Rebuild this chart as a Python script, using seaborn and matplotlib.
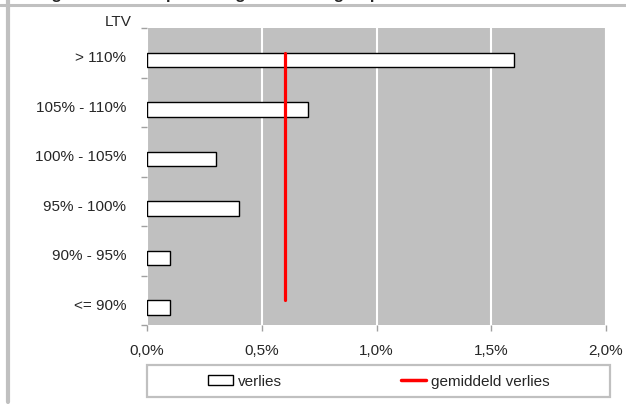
import numpy as np
import pandas as pd
import matplotlib
matplotlib.use("Agg")
import matplotlib.pyplot as plt
from matplotlib.patches import Patch, Rectangle
from matplotlib.lines import Line2D
from matplotlib.ticker import FixedLocator, FuncFormatter
from matplotlib.transforms import ScaledTranslation
import seaborn as sns

# LTV groups and loss percentages (%)
ltv_groups = ["> 110%", "105% - 110%", "100% - 105%", "95% - 100%", "90% - 95%", "<= 90%"]
verlies = [1.6, 0.7, 0.3, 0.4, 0.1, 0.1]
gemiddeld_verlies = [0.6, 0.6, 0.6, 0.6, 0.6, 0.6]
x_ticks = [0.0, 0.5, 1.0, 1.5, 2.0]

sns.set_style("white")
plt.rcParams["font.family"] = ["Liberation Sans", "DejaVu Sans"]
plt.rcParams["font.size"] = 11

W, H = 626, 406
fig = plt.figure(figsize=(W / 100, H / 100), dpi=100)
ax = fig.add_axes([147 / W, 1 - 326 / H, (606 - 147) / W, (326 - 29) / H])

df = pd.DataFrame({"LTV": ltv_groups, "verlies": verlies})
sns.barplot(data=df, x="verlies", y="LTV", orient="h", ax=ax, width=0.29,
            color="white", edgecolor="black", linewidth=1.0, saturation=1)
# bars sit slightly below the category centre
for p in ax.patches:
    p.set_y(p.get_y() + 0.15)

cats = np.arange(len(ltv_groups))
sns.lineplot(x=gemiddeld_verlies, y=cats, orient="y", sort=False, ax=ax,
             color="#ff0000", linewidth=2.3, zorder=5)

ax.set_facecolor("#c0c0c0")
ax.set_xlim(0, 2.0)
ax.set_ylim(len(ltv_groups) - 0.5, -0.5)
ax.set_xlabel("")
ax.set_ylabel("")

ax.xaxis.set_major_locator(FixedLocator(x_ticks))
ax.xaxis.set_major_formatter(FuncFormatter(lambda v, _: f"{v:.1f}%".replace(".", ",")))
ax.grid(axis="x", color="white", linewidth=1.5)
ax.grid(axis="y", visible=False)
ax.set_axisbelow(True)
for s in ax.spines.values():
    s.set_visible(False)
ax.axvline(2.0, color="white", linewidth=1.5, zorder=0.5)

ax.tick_params(axis="x", which="major", length=4, color="#a0a0a0", width=1,
               pad=9, labelsize=11, bottom=True)
ax.tick_params(axis="y", which="major", length=0, pad=15, labelsize=11, left=True)
ax.yaxis.set_minor_locator(FixedLocator(np.arange(-0.5, len(ltv_groups), 1.0)))
ax.tick_params(axis="y", which="minor", length=4, color="#a0a0a0", width=1, left=True)
# category labels sit a touch below the band centre
for lbl in ax.get_yticklabels():
    lbl.set_transform(lbl.get_transform() + ScaledTranslation(0, -3 / 100, fig.dpi_scale_trans))

fig.text(132 / W, 1 - 22 / H, "LTV", ha="right", va="center", fontsize=11)

# title (running above the page edge) and frame lines of the surrounding figure
fig.text(37 / W, 1 + 0.8 / H, "Figuur 4: Verliespercentage naar LTV-groep",
         ha="left", va="baseline", fontsize=12, fontweight="bold")
fig.add_artist(Line2D([0, 1], [1 - 5.5 / H] * 2, color="#c0c0c0", linewidth=2.2))
fig.add_artist(Line2D([8 / W] * 2, [1 - 403 / H, 1], color="#c0c0c0", linewidth=3))

# legend box
fig.add_artist(Rectangle((147 / W, 1 - 398 / H), (610 - 147) / W, 32 / H,
                         transform=fig.transFigure, facecolor="white",
                         edgecolor="#c0c0c0", linewidth=1.6))
handles = [Patch(facecolor="white", edgecolor="black", linewidth=1.0),
           Line2D([0], [0], color="#ff0000", linewidth=2.5)]
fig.legend(handles, ["verlies", "gemiddeld verlies"], loc="center",
           bbox_to_anchor=(379 / W, 1 - 382 / H), ncol=2, frameon=False,
           fontsize=11, handlelength=1.6, handleheight=0.65, handletextpad=0.35,
           columnspacing=7.8)

fig.savefig("out.png", dpi=100)
